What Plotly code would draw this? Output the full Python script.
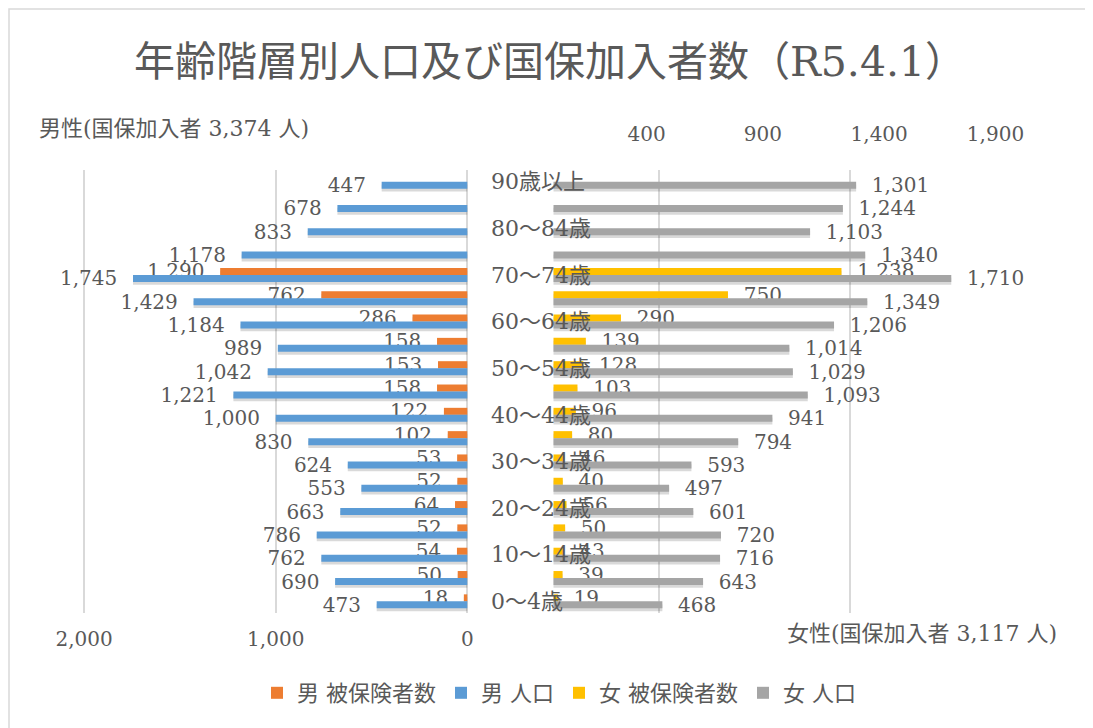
import plotly.graph_objects as go

# ---- data (bottom -> top) ----
categories = ["0〜4歳", "5〜9歳", "10〜14歳", "15〜19歳", "20〜24歳", "25〜29歳",
              "30〜34歳", "35〜39歳", "40〜44歳", "45〜49歳", "50〜54歳", "55〜59歳",
              "60〜64歳", "65〜69歳", "70〜74歳", "75〜79歳", "80〜84歳", "85〜89歳",
              "90歳以上"]
male_pop = [473, 690, 762, 786, 663, 553, 624, 830, 1000, 1221, 1042, 989,
            1184, 1429, 1745, 1178, 833, 678, 447]
male_ins = [18, 50, 54, 52, 64, 52, 53, 102, 122, 158, 153, 158,
            286, 762, 1290, None, None, None, None]
female_pop = [468, 643, 716, 720, 601, 497, 593, 794, 941, 1093, 1029, 1014,
              1206, 1349, 1710, 1340, 1103, 1244, 1301]
female_ins = [19, 39, 43, 50, 56, 40, 46, 80, 96, 103, 128, 139,
              290, 750, 1238, None, None, None, None]
shown_categories = categories[::2]
male_ticks = [2000, 1000, 0, -1000, -2000, -3000]
male_ticktext = ["2,000", "1,000", "0", "", "", ""]
female_ticks = [400, 900, 1400, 1900]
female_ticktext = ["400", "900", "1,400", "1,900"]

title = "年齢階層別人口及び国保加入者数（R5.4.1）"
male_note = "男性(国保加入者 3,374 人)"
female_note = "女性(国保加入者 3,117 人)"

# ---- style / layout (reference pixel coordinates, page has 8px body margin) ----
OFF = 8
W, H = 1093 - OFF, 728 - OFF
PX0, PX1, PY0, PY1 = 65, 1042, 170, 613          # plot area in reference pixels
L, T = PX0 - OFF, PY0 - OFF
PW, PH = PX1 - PX0, PY1 - PY0
R, B = W - L - PW, H - T - PH
TXT = "#595959"
FONT = "'DejaVu Serif', 'Noto Sans CJK JP', serif"
C_MI, C_MP, C_FI, C_FP = "#ED7D31", "#5B9BD5", "#FFC000", "#A5A5A5"
BW = 0.30
SH = 0.12
PAD = "\u00a0\u00a0"


def px2x(px):
    return (px - PX0) / PW


def px2y(py):
    return (PY1 - py) / PH


def lab_left(vals):
    return [None if v is None else f"{v:,}" + PAD for v in vals]


def lab_right(vals):
    return [None if v is None else PAD + f"{v:,}" for v in vals]


fig = go.Figure()

# soft shadows under bars
for vals, off, xa in [(male_ins, 0, "x"), (male_pop, -BW, "x"),
                      (female_ins, 0, "x2"), (female_pop, -BW, "x2")]:
    fig.add_trace(go.Bar(y=categories, x=vals, orientation="h", xaxis=xa,
                         width=BW, offset=off - SH,
                         marker=dict(color="rgba(0,0,0,0.15)", line_width=0),
                         showlegend=False, hoverinfo="skip"))

series = [
    ("男 被保険者数", male_ins, 0, "x", C_MI, lab_left(male_ins)),
    ("男 人口", male_pop, -BW, "x", C_MP, lab_left(male_pop)),
    ("女 被保険者数", female_ins, 0, "x2", C_FI, lab_right(female_ins)),
    ("女 人口", female_pop, -BW, "x2", C_FP, lab_right(female_pop)),
]
for name, vals, off, xa, col, txt in series:
    fig.add_trace(go.Bar(
        name=name, y=categories, x=vals, orientation="h", xaxis=xa,
        width=BW, offset=off,
        marker=dict(color=col, line_width=0),
        text=txt, textposition="outside", constraintext="none",
        cliponaxis=False,
        textfont=dict(family=FONT, size=20, color=TXT),
    ))

fig.update_layout(
    width=W, height=H,
    margin=dict(l=L, r=R, t=T, b=B),
    paper_bgcolor="white", plot_bgcolor="white",
    barmode="overlay",
    font=dict(family=FONT, size=22, color=TXT),
    title=dict(text=title, x=(550 - OFF) / W, y=1 - (62 - OFF) / H,
               xanchor="center", yanchor="middle", xref="container", yref="container",
               font=dict(family=FONT, size=41, color=TXT)),
    xaxis=dict(range=[2100, -3000], tickvals=male_ticks, ticktext=male_ticktext,
               showgrid=True, gridcolor="#D9D9D9", gridwidth=1.5,
               zeroline=False, showline=False, ticks="",
               ticklabelstandoff=12, tickfont=dict(size=20, color=TXT)),
    xaxis2=dict(overlaying="x", side="top", anchor="y", range=[-2100, 2100],
                tickvals=female_ticks, ticktext=female_ticktext,
                showgrid=False, zeroline=False, showline=False, ticks="",
                ticklabelstandoff=24, tickfont=dict(size=20, color=TXT)),
    yaxis=dict(type="category", categoryorder="array", categoryarray=categories,
               range=[-0.5, len(categories) - 0.5],
               tickvals=shown_categories, ticktext=shown_categories,
               anchor="free", position=px2x(490), side="right",
               showgrid=False, zeroline=False, showline=False, ticks="",
               tickfont=dict(size=22, color=TXT)),
    legend=dict(orientation="h", x=px2x(559), y=px2y(693), xanchor="center",
                yanchor="middle", font=dict(size=22, color=TXT),
                traceorder="normal", bgcolor="rgba(0,0,0,0)"),
    annotations=[
        dict(text=male_note, xref="paper", yref="paper", x=px2x(37), y=px2y(128),
             xanchor="left", yanchor="middle", showarrow=False,
             font=dict(size=22, color=TXT)),
        dict(text=female_note, xref="paper", yref="paper", x=px2x(785), y=px2y(633),
             xanchor="left", yanchor="middle", showarrow=False,
             font=dict(size=22, color=TXT)),
    ],
    shapes=[dict(type="rect", xref="paper", yref="paper",
                 x0=px2x(OFF + 1), x1=px2x(1093 + 20), y0=px2y(728 + 20), y1=px2y(OFF + 1),
                 line=dict(color="#D9D9D9", width=1.5), fillcolor="rgba(0,0,0,0)",
                 layer="below")],
    showlegend=True,
)

fig.write_html("out.html")
